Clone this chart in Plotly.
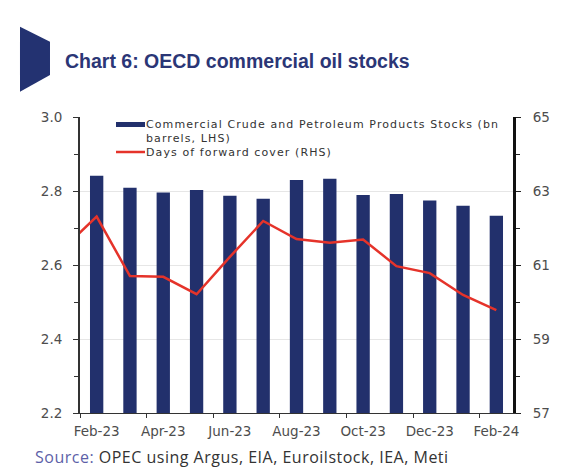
import plotly.graph_objects as go

# ---- data ----
months_all = ["Jan-23", "Feb-23", "Mar-23", "Apr-23", "May-23", "Jun-23", "Jul-23",
              "Aug-23", "Sep-23", "Oct-23", "Nov-23", "Dec-23", "Jan-24", "Feb-24"]
bar_months = months_all[1:]
stocks_bn = [2.841, 2.809, 2.796, 2.803, 2.787, 2.779, 2.830, 2.833, 2.789, 2.792, 2.774, 2.760, 2.733]
cover_days = [61.45, 62.31, 60.70, 60.68, 60.21, 61.22, 62.19, 61.70, 61.60, 61.69, 60.97, 60.78, 60.19, 59.78]

title_text = "Chart 6: OECD commercial oil stocks"
legend_bar_1 = "Commercial Crude and Petroleum Products Stocks (bn"
legend_bar_2 = "barrels, LHS)"
legend_line = "Days of forward cover (RHS)"
source_label = "Source:"
source_body = "OPEC using Argus, EIA, Euroilstock, IEA, Meti"

# ---- geometry (screen pixels; page has an 8px body margin) ----
W, H = 582, 467
OFF = 8
L, R, T, B = 80, 513, 117, 413

def xp(px):
    return (px - L) / (R - L)

def yp(py):
    return (B - py) / (B - T)

NAVY = "#22306c"
RED = "#e5332a"

fig = go.Figure()
fig.add_trace(go.Bar(x=bar_months, y=stocks_bn, width=0.4, marker=dict(color=NAVY, line=dict(width=0)),
                     name="Commercial Crude and Petroleum Products Stocks (bn barrels, LHS)", yaxis="y"))
fig.add_trace(go.Scatter(x=months_all, y=cover_days, mode="lines", line=dict(color=RED, width=2.5),
                         name=legend_line, yaxis="y2"))

tick_font = dict(family="DejaVu Sans, sans-serif", size=13.5, color="#4d4d4d")

fig.update_layout(
    width=W, height=H,
    margin=dict(l=L - OFF, r=W - (R - OFF), t=T - OFF, b=H - (B - OFF), pad=0),
    paper_bgcolor="white", plot_bgcolor="white",
    showlegend=False,
    xaxis=dict(type="category", categoryorder="array", categoryarray=months_all,
               range=[0.5, 13.5], tickmode="linear", tick0=1, dtick=2, tickangle=0,
               tickson="boundaries", ticks="outside", ticklen=4, tickcolor="#333",
               showline=True, linecolor="#333", linewidth=1, showgrid=False,
               tickfont=tick_font, ticklabelstandoff=6),
    yaxis=dict(range=[2.2, 3.0], tick0=2.2, dtick=0.2, tickformat=".1f", ticks="outside", ticklen=5,
               tickcolor="#333", showline=True, linecolor="#333", linewidth=2,
               showgrid=True, gridcolor="#e6e6e6", gridwidth=1, zeroline=False,
               minor=dict(dtick=0.1, ticks="outside", ticklen=4, tickcolor="#333", showgrid=False),
               tickfont=tick_font, ticklabelstandoff=8),
    yaxis2=dict(range=[57, 65], tick0=57, dtick=2, overlaying="y", side="right", ticks="outside", ticklen=5,
                tickcolor="#222", showline=True, linecolor="#111", linewidth=3,
                showgrid=False, zeroline=False,
                minor=dict(dtick=1, ticks="outside", ticklen=4, tickcolor="#222", showgrid=False),
                tickfont=tick_font, ticklabelstandoff=9),
)

# decorative pentagon at top-left
pts = [(20, 26.7), (50, 41.7), (50, 75), (20, 91.7)]
path = "M " + " L ".join(f"{xp(x):.4f},{yp(y):.4f}" for x, y in pts) + " Z"
fig.add_shape(type="path", path=path, xref="paper", yref="paper",
              fillcolor="#233271", line=dict(width=0), layer="above")

# title
fig.add_annotation(text=f"<b>{title_text}</b>", x=xp(63), y=yp(61), xref="paper", yref="paper",
                   xanchor="left", yanchor="middle", showarrow=False,
                   font=dict(family="Liberation Sans, Arial, sans-serif", size=19.5, color="#2b3676"))

# custom legend
fig.add_shape(type="rect", xref="paper", yref="paper", x0=xp(116), x1=xp(145), y0=yp(127), y1=yp(122),
              fillcolor=NAVY, line=dict(width=0))
fig.add_shape(type="line", xref="paper", yref="paper", x0=xp(116), x1=xp(145), y0=yp(152), y1=yp(152),
              line=dict(color=RED, width=2.5))
leg_font = dict(family="DejaVu Sans, sans-serif", size=11, color="#333333")
sp = "<span style='letter-spacing:1.1px'>{}</span>"
for txt, yy in [(legend_bar_1, 125), (legend_bar_2, 138), (legend_line, 152)]:
    fig.add_annotation(text=sp.format(txt), x=xp(144), y=yp(yy), xref="paper", yref="paper",
                       xanchor="left", yanchor="middle", align="left", showarrow=False, font=leg_font)

# source
fig.add_annotation(text=(f"<span style='letter-spacing:0.5px'><span style='color:#5d5fa8'>{source_label}</span>"
                         f" {source_body}</span>"),
                   x=xp(33), y=yp(457), xref="paper", yref="paper",
                   xanchor="left", yanchor="middle", showarrow=False,
                   font=dict(family="Open Sans, sans-serif", size=16, color="#333333"))

fig.write_html("out.html")
